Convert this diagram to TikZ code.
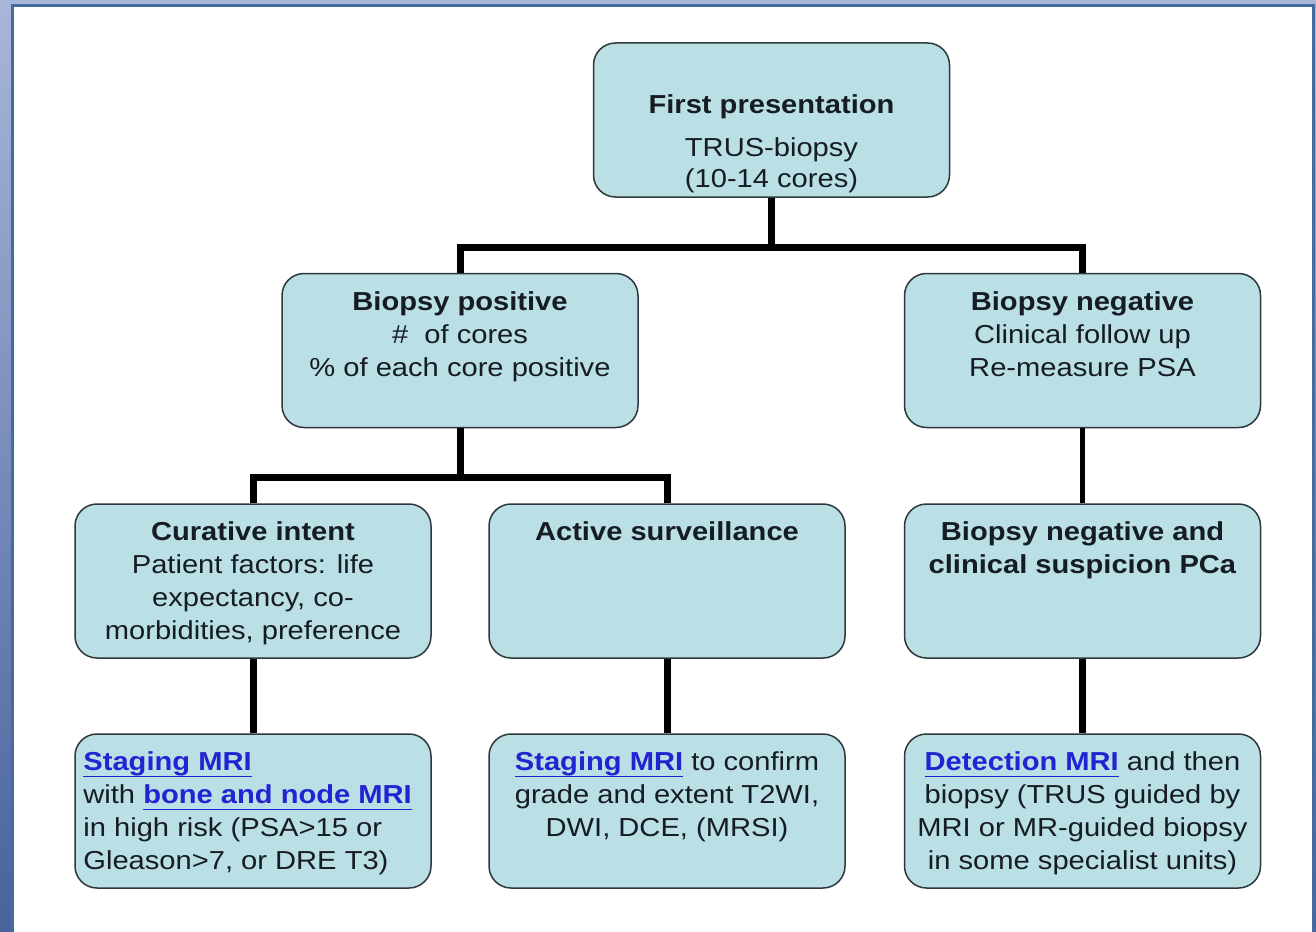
\documentclass[tikz,border=0pt]{standalone}
\usepackage{fontspec}
\setmainfont{Liberation Sans}[FakeStretch=1.12]
\definecolor{boxfill}{RGB}{186,223,229}
\definecolor{boxline}{RGB}{45,55,60}
\definecolor{txtcol}{RGB}{22,28,36}
\definecolor{linkblue}{RGB}{35,35,210}
\definecolor{bgtop}{RGB}{168,182,216}
\definecolor{bgbot}{RGB}{72,98,158}
\definecolor{panelline}{RGB}{68,108,158}
\newcommand\lnk[1]{{\color{linkblue}\bfseries\setbox0\hbox{#1}\rlap{\rule[-3.6pt]{\wd0}{0.9pt}}\box0}}
\begin{document}
\begin{tikzpicture}[x=0.5pt,y=-0.5pt,
  box/.style={draw=boxline, line width=0.75pt, fill=boxfill, rounded corners=11pt,
    minimum width=178pt, minimum height=77pt, inner sep=0pt},
  txt/.style={text=txtcol, font=\fontsize{13}{16.5}\selectfont, inner sep=0pt,
    align=center, anchor=north},
  conn/.style={line width=3.5pt, black}]
\useasboundingbox (0,0) rectangle (1316,931);
\shade[top color=bgtop, bottom color=bgbot] (0,0) rectangle (1316,931);
\draw[panelline, line width=1.5pt, fill=white] (12,6) rectangle (1313,945);

% box positions
\coordinate (ptop) at (771.5,120);
\coordinate (pbp) at (460,350.5);
\coordinate (pbn) at (1082.5,350.5);
\coordinate (pcur) at (253,581);
\coordinate (pas) at (667,581);
\coordinate (pbnc) at (1082.5,581);
\coordinate (pstg) at (253,811);
\coordinate (pasm) at (667,811);
\coordinate (pdet) at (1082.5,811);

% boxes
\node[box] (top) at (ptop) {};
\node[box] (bp) at (pbp) {};
\node[box] (bn) at (pbn) {};
\node[box] (cur) at (pcur) {};
\node[box] (as) at (pas) {};
\node[box] (bnc) at (pbnc) {};
\node[box] (stg) at (pstg) {};
\node[box] (asm) at (pasm) {};
\node[box] (det) at (pdet) {};

% connectors
\coordinate (j1) at (771.5,247);
\coordinate (j2) at (460,477);
\draw[conn] (top.south) -- (j1);
\draw[conn] (bp.north) |- (j1) -| (bn.north);
\draw[conn] (bp.south) -- (j2);
\draw[conn] (cur.north) |- (j2) -| (as.north);
\draw[conn, line width=2.8pt] (bn.south) -- (bnc.north);
\draw[conn] (cur.south) -- (stg.north);
\draw[conn] (as.south) -- (asm.north);
\draw[conn] (bnc.south) -- (det.north);

% texts
\node[txt] (t0a) at (771.5,94) {\textbf{First presentation}};
\node[txt, font=\fontsize{13}{15.5}\selectfont] (t0b) at (771.5,137) {TRUS-biopsy\\(10-14 cores)};
\node[txt] (t1) at (460,291) {\textbf{Biopsy positive}\\\#\ \ of cores\\\% of each core positive};
\node[txt] (t2) at (1082.5,291) {\textbf{Biopsy negative}\\Clinical follow up\\Re-measure PSA};
\node[txt] (t3) at (253,521) {\textbf{Curative intent}\\Patient factors: life\\expectancy, co-\\morbidities, preference};
\node[txt] (t4) at (667,521) {\textbf{Active surveillance}};
\node[txt] (t5) at (1082.5,521) {\textbf{Biopsy negative and}\\\textbf{clinical suspicion PCa}};
\node[txt, align=left, anchor=north west] (t6) at (83,751) {\lnk{Staging MRI}\\with \lnk{bone and node MRI}\\in high risk (PSA>15 or\\Gleason>7, or DRE T3)};
\node[txt] (t7) at (667,751) {\lnk{Staging MRI} to confirm\\grade and extent T2WI,\\DWI, DCE, (MRSI)};
\node[txt] (t8) at (1082.5,751) {\lnk{Detection MRI} and then\\biopsy (TRUS guided by\\MRI or MR-guided biopsy\\in some specialist units)};
\end{tikzpicture}
\end{document}
